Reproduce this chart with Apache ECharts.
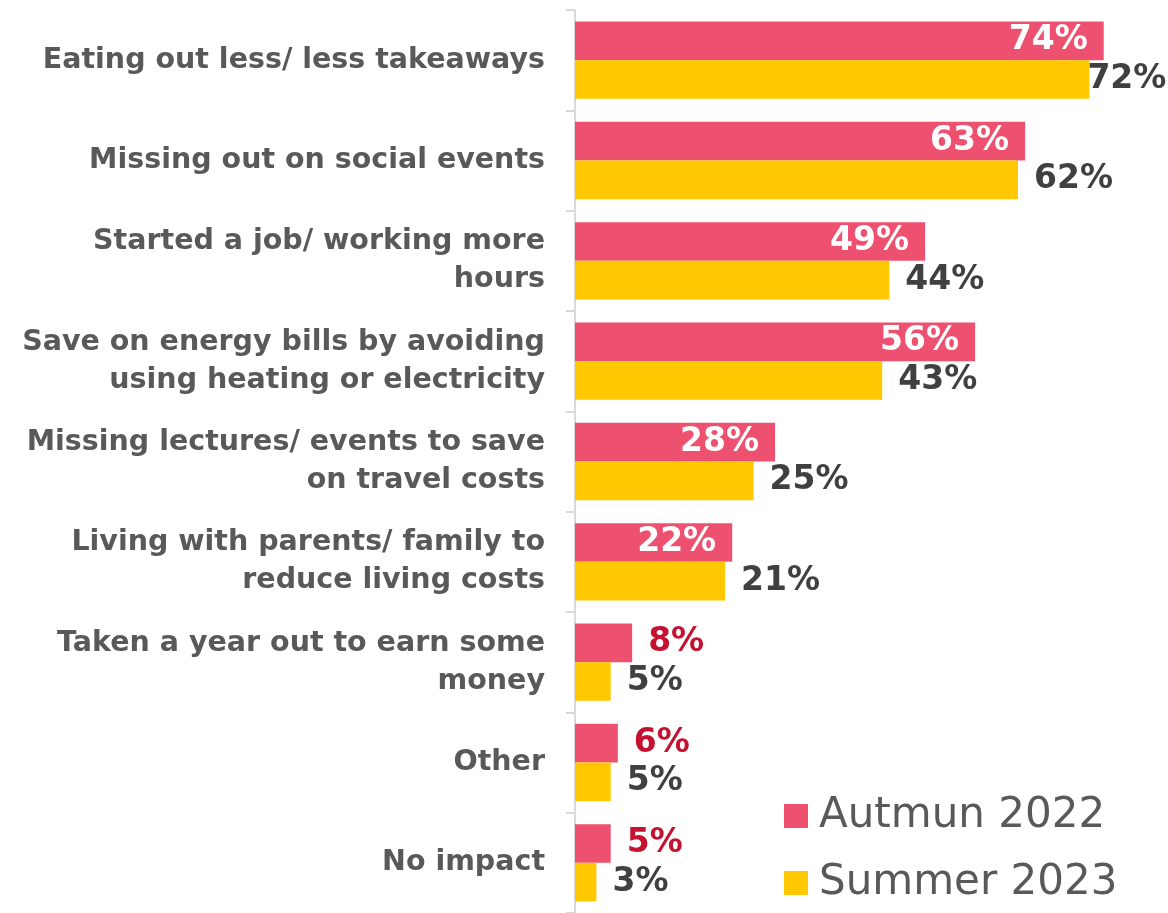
<!DOCTYPE html>
<html>
<head>
<meta charset="utf-8">
<script src="https://cdn.jsdelivr.net/npm/echarts@6/dist/echarts.min.js"></script>
<style>
  html, body { margin: 0; padding: 0; background: #fff; }
  #chart { width: 1168px; height: 913px; }
</style>
</head>
<body>
<div id="chart"></div>
<script>
// categories, top to bottom
const categories = [
  'Eating out less/ less takeaways',
  'Missing out on social events',
  'Started a job/ working more\nhours',
  'Save on energy bills by avoiding\nusing heating or electricity',
  'Missing lectures/ events to save\non travel costs',
  'Living with parents/ family to\nreduce living costs',
  'Taken a year out to earn some\nmoney',
  'Other',
  'No impact'
]
const seriesNames = ['Autmun 2022', 'Summer 2023']
const autumn2022 = [74, 63, 49, 56, 28, 22, 8, 6, 5]
const summer2023 = [72, 62, 44, 43, 25, 21, 5, 5, 3]

const PINK = '#EE5070'
const YELLOW = '#FFC800'
const FONT = '"DejaVu Sans", sans-serif'

const chart = echarts.init(document.getElementById('chart'))

// pink labels sit inside the bar when there is room, else outside in red
const autumnData = autumn2022.map(v => ({
  value: v,
  label: v >= 15
    ? { position: 'insideRight', distance: 16, color: '#fff' }
    : { position: 'right', distance: 16, color: '#C41230' }
}))
// the top yellow label is squeezed against the bar so it fits the page
const summerData = summer2023.map((v, i) => ({
  value: v,
  label: i === 0 ? { distance: -2 } : {}
}))

const valueLabel = {
  show: true,
  formatter: '{c}%',
  fontFamily: FONT,
  fontWeight: 'bold',
  fontSize: 33
}

chart.setOption({
  animation: false,
  grid: { left: 575, right: 0, top: 10, bottom: 0 },
  legend: {
    orient: 'vertical',
    left: 784,
    top: 794,
    padding: 0,
    itemWidth: 24,
    itemHeight: 24,
    itemGap: 23,
    icon: 'rect',
    data: seriesNames,
    textStyle: {
      fontFamily: FONT,
      fontSize: 42,
      color: '#595959',
      lineHeight: 44,
      padding: [0, 0, 0, 6]
    }
  },
  xAxis: {
    type: 'value',
    min: 0,
    max: 83,
    show: false
  },
  yAxis: {
    type: 'category',
    data: categories,
    inverse: true,
    axisLine: { show: true, lineStyle: { color: '#D9D9D9', width: 2 } },
    axisTick: { show: true, length: 9, lineStyle: { color: '#D9D9D9', width: 2 } },
    axisLabel: {
      margin: 30,
      fontFamily: FONT,
      fontWeight: 'bold',
      fontSize: 28.5,
      lineHeight: 38,
      color: '#595959',
      align: 'right'
    }
  },
  series: [
    {
      name: seriesNames[0],
      type: 'bar',
      data: autumnData,
      barGap: '0%',
      barCategoryGap: '23%',
      itemStyle: { color: PINK },
      label: valueLabel
    },
    {
      name: seriesNames[1],
      type: 'bar',
      data: summerData,
      itemStyle: { color: YELLOW },
      label: Object.assign({}, valueLabel, { position: 'right', distance: 16, color: '#404040' })
    }
  ]
})
</script>
</body>
</html>
